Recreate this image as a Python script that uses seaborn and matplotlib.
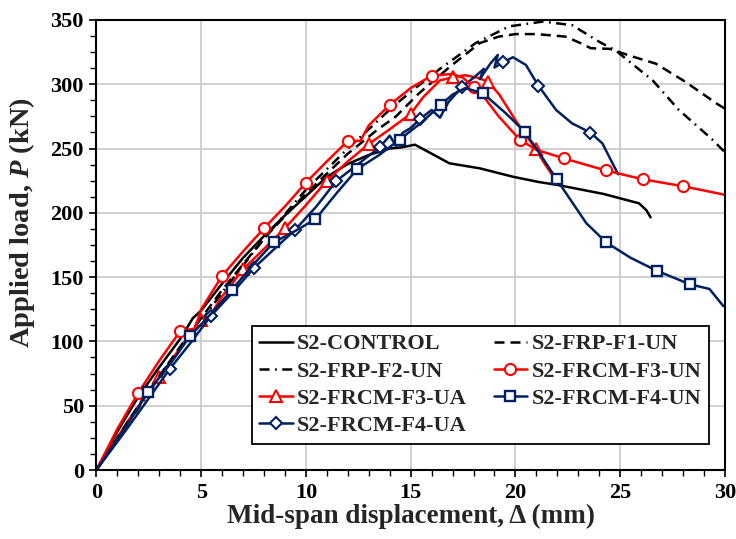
import numpy as np
import matplotlib
matplotlib.use("Agg")
import matplotlib.pyplot as plt
import seaborn as sns

# ---- data (displacement mm, load kN) ----
ctrl_x = [0, 1, 2, 3, 4, 4.6, 5, 6, 7, 8, 9, 10, 11, 12, 13, 14, 14.6, 15.2, 16, 16.85,
          18.3, 19.9, 21.1, 22, 24.2, 25.9, 26.25, 26.45]
ctrl_y = [0, 30, 57, 80, 102, 118, 124, 145, 165, 182, 198, 213, 228, 238, 245, 250, 251, 253,
          246, 238.5, 234.6, 228, 224, 221.7, 214.7, 207.4, 202, 196.5]

f1_x = [0, 2, 4, 6, 8, 10, 12, 13.4, 14.3, 15.4, 16.9, 18.3, 19.2, 20.0, 21.0, 22.4, 23.1,
        23.6, 24.5, 25.5, 26.7, 28.1, 29.6, 30]
f1_y = [0, 50, 96, 140, 180, 215, 246, 264.5, 275, 293, 314, 332, 337, 339, 339, 337, 332,
        328, 327.5, 322, 316, 302, 285, 281]

f2_x = [0, 2, 4, 6, 8, 10, 12, 13, 14.15, 15.3, 16.4, 18.1, 19.7, 21.3, 22.7, 24.0, 24.8,
        26.55, 27.8, 29.4, 30]
f2_y = [0, 48, 94, 138, 180, 218, 250, 265, 282.6, 298, 312, 332, 345, 348.7, 346, 333, 326,
        303, 280, 257, 247]

f3un_x = [0, 1, 2, 3, 4, 4.7, 5, 6, 7, 8, 9, 10, 11, 12, 12.6, 13, 14, 15, 16, 17, 17.5, 18,
          18.5, 19.2, 20.2, 21, 22.3, 24.3, 26.1, 28, 30]
f3un_y = [0, 32, 60, 85, 108, 110, 125, 151, 170, 188, 205, 223.5, 240, 256, 256, 268, 284, 297,
          306.7, 308, 305, 298, 290, 275, 257, 249, 242.4, 233, 226, 220.7, 214]
f3un_mk = [2, 4, 6, 8, 10, 12, 14, 16, 18, 20.2, 22.3, 24.3, 26.1, 28]

f3ua_x = [0, 1.5, 3, 4, 5, 5.5, 6, 7, 8, 9, 10, 11, 12, 13, 14, 15, 15.6, 16.4, 17, 17.6,
          18.2, 18.7, 19.24, 20.0, 20.96, 21.4, 21.9]
f3ua_y = [0, 38, 72, 95, 117, 122, 135, 156, 172, 188, 206, 225, 240, 253.5, 265, 277, 290, 303,
          305.4, 307, 305, 302, 291.7, 272, 250, 238, 226]
f3ua_mk = [3, 5, 7, 9, 11, 13, 15, 17, 18.7, 20.96]

f4un_x = [0, 1.5, 2.47, 3.5, 4.46, 5.5, 6.46, 7.5, 8.46, 9.5, 10.45, 11.5, 12.45, 13.5, 14.47,
          15.5, 16.44, 17.0, 17.6, 18.45, 19.5, 20.45, 21.2, 21.97, 23.38, 24.33, 25.5, 26.74,
          28.33, 29.26, 29.92]
f4un_y = [0, 36, 61, 82, 104, 122, 140, 160, 177, 186, 195, 216, 234, 245, 257, 270, 284, 292,
          297, 293, 278, 263, 245, 226, 192, 177, 165, 155, 144.4, 140.8, 127.5]
f4un_mk = [2.47, 4.46, 6.46, 8.46, 10.45, 12.45, 14.47, 16.44, 18.45, 20.45, 21.97, 24.33,
           26.74, 28.33]

f4ua_x = [0, 1.5, 3.5, 4.5, 5.46, 6.5, 7.51, 8.5, 9.48, 10.5, 11.45, 12.5, 13.52, 14.0, 14.3,
          14.6, 15.0, 15.46, 16.0, 16.4, 16.8, 17.43, 18.0, 18.5, 18.3, 18.8, 19.16, 19.0, 19.4,
          19.88, 20.5, 21.09, 21.94, 22.7, 23.58, 24.15, 24.9]
f4ua_y = [0, 33, 78.6, 99, 119.8, 138, 157, 172, 186.7, 205, 224.8, 238, 251, 260, 252, 262,
          266, 273.2, 280, 274, 286, 297.6, 305, 312, 304, 316, 322.8, 313, 317, 321, 315, 299,
          280, 269.6, 262.4, 254, 230]
f4ua_mk = [3.5, 5.46, 7.51, 9.48, 11.45, 13.52, 15.46, 17.43, 19.4, 21.09, 23.58]

RED = "#ff0000"
NAVY = "#002060"


def mark_idx(xs, mk):
    xs = np.asarray(xs)
    return [int(np.where(np.isclose(xs, m))[0][0]) for m in mk]


sns.set_theme(style="whitegrid")
plt.rcParams["font.family"] = ["Liberation Serif", "DejaVu Serif"]
plt.rcParams["font.weight"] = "bold"
plt.rcParams["mathtext.fontset"] = "custom"
plt.rcParams["mathtext.it"] = "Liberation Serif:italic:bold"
plt.rcParams["mathtext.rm"] = "Liberation Serif:bold"

fig, ax = plt.subplots(figsize=(7.36, 5.39), dpi=100)
fig.subplots_adjust(left=0.131, right=0.985, top=0.963, bottom=0.128)

lw = 1.8
common = dict(ax=ax, sort=False, estimator=None, linewidth=lw)

sns.lineplot(x=ctrl_x, y=ctrl_y, color="black", label="S2-CONTROL", **common)
sns.lineplot(x=f2_x, y=f2_y, color="black", label="S2-FRP-F2-UN", **common)
ax.lines[-1].set_dashes((4, 2.2, 0.7, 2.2))
sns.lineplot(x=f3ua_x, y=f3ua_y, color=RED, label="S2-FRCM-F3-UA", marker="^", markersize=8,
             markerfacecolor="white", markeredgecolor=RED, markeredgewidth=1.5,
             markevery=mark_idx(f3ua_x, f3ua_mk), **common)
sns.lineplot(x=f4ua_x, y=f4ua_y, color=NAVY, label="S2-FRCM-F4-UA", marker="D", markersize=6.5,
             markerfacecolor="white", markeredgecolor=NAVY, markeredgewidth=1.5,
             markevery=mark_idx(f4ua_x, f4ua_mk), **common)
sns.lineplot(x=f1_x, y=f1_y, color="black", label="S2-FRP-F1-UN", **common)
ax.lines[-1].set_dashes((4, 2.4))
sns.lineplot(x=f3un_x, y=f3un_y, color=RED, label="S2-FRCM-F3-UN", marker="o", markersize=8,
             markerfacecolor="white", markeredgecolor=RED, markeredgewidth=1.5,
             markevery=mark_idx(f3un_x, f3un_mk), **common)
sns.lineplot(x=f4un_x, y=f4un_y, color=NAVY, label="S2-FRCM-F4-UN", marker="s", markersize=7.5,
             markerfacecolor="white", markeredgecolor=NAVY, markeredgewidth=1.7,
             markevery=mark_idx(f4un_x, f4un_mk), **common)

ax.set_xlim(0, 30)
ax.set_ylim(0, 350)
ax.set_xticks(np.arange(0, 31, 5))
ax.set_yticks(np.arange(0, 351, 50))
ax.set_xticks(np.arange(0, 31, 1), minor=True)
ax.set_yticks(np.arange(0, 351, 12.5), minor=True)
ax.grid(True, which="major", color="#c8c8c8", linewidth=1.2)
ax.grid(False, which="minor")
ax.tick_params(which="both", direction="out", colors="black", labelsize=16,
               bottom=True, left=True, top=False, right=False)
ax.tick_params(which="major", length=5, width=1.2, pad=4)
ax.tick_params(which="minor", length=4, width=1.0)
for lab in ax.get_xticklabels() + ax.get_yticklabels():
    lab.set_fontweight("bold")
for sp in ax.spines.values():
    sp.set_color("black")
    sp.set_linewidth(1.5)

ax.set_xlabel("Mid-span displacement, Δ (mm)", fontsize=19.5, fontweight="bold", labelpad=1)
ax.set_ylabel("Applied load, $P$ (kN)", fontsize=20.5, fontweight="bold")
ax.yaxis.set_label_coords(-0.094, 0.55)

leg = ax.legend(ncol=2, loc="lower left", bbox_to_anchor=(0.247, 0.058), borderaxespad=0,
                frameon=True, fancybox=False, edgecolor="black", framealpha=1,
                handlelength=1.5, handletextpad=0.2, columnspacing=1.2,
                borderpad=0.35, labelspacing=0.3, prop={"weight": "bold", "size": 16})
leg.get_frame().set_linewidth(1.3)

fig.savefig("out.png", dpi=100)
